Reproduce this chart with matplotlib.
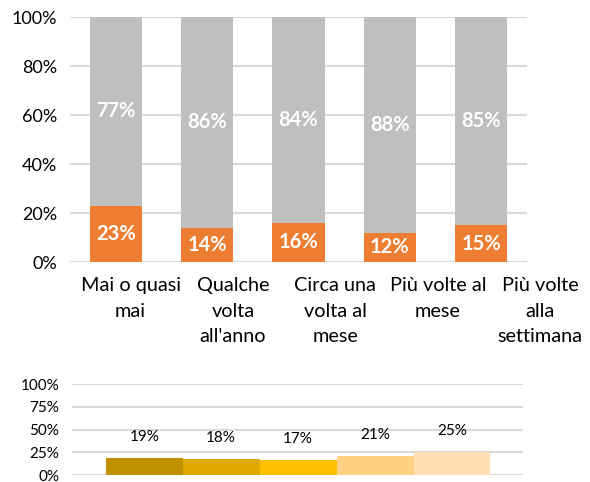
import matplotlib.pyplot as plt
import numpy as np

plt.rcParams['font.family'] = ['Lato', 'DejaVu Sans']

# Top chart data
categories = ['Mai o quasi\nmai', 'Qualche\nvolta\nall\'anno', 'Circa una\nvolta al\nmese',
              'Più volte al\nmese', 'Più volte\nalla\nsettimana']
share_yes = [23, 14, 16, 12, 15]
share_no = [77, 86, 84, 88, 85]

# Bottom chart data
group_share = [19, 18, 17, 21, 25]
group_colors = ['#BF9000', '#E1A900', '#FFC000', '#FFD184', '#FFDFB1']

fig = plt.figure(figsize=(5.9, 4.82), dpi=100)

# --- top stacked bars
ax = fig.add_axes([0.1186, 0.4564, 0.7746, 0.5083])
x = np.arange(len(categories))
ax.bar(x, share_yes, width=0.57, color='#ED7D31', zorder=3)
ax.bar(x, share_no, width=0.57, bottom=share_yes, color='#BFBFBF', zorder=3)
for i in range(len(x)):
    ax.text(x[i], share_yes[i] / 2, f'{share_yes[i]}%', ha='center', va='center',
            color='white', fontsize=14.5, fontweight='bold', zorder=4)
    ax.text(x[i], share_yes[i] + share_no[i] / 2, f'{share_no[i]}%', ha='center', va='center',
            color='white', fontsize=14.5, fontweight='bold', zorder=4)
ax.set_xlim(-0.5, len(categories) - 0.5)
ax.set_ylim(0, 100)
ax.set_yticks(range(0, 101, 20))
ax.set_yticklabels([f'{v}%' for v in range(0, 101, 20)], fontsize=13)
ax.set_xticks([])
# category labels sit on a slightly wider spacing than the bars
for i, lab in enumerate(categories):
    ax.annotate(lab, (0.164 + 1.12 * i, 0), xycoords=('data', 'axes fraction'),
                xytext=(0, -11), textcoords='offset points', ha='center', va='top',
                fontsize=14.3, linespacing=1.6, annotation_clip=False)
ax.tick_params(axis='y', length=0, pad=9)
ax.grid(axis='y', color='#D9D9D9', linewidth=1.5, zorder=0)
for s in ax.spines.values():
    s.set_visible(False)

# --- bottom bars
ax2 = fig.add_axes([0.122, 0.0145, 0.764, 0.1888])
x2 = np.arange(len(group_share))
ax2.bar(x2, group_share, width=1.0, color=group_colors, zorder=3)
for i in range(len(x2)):
    ax2.annotate(f'{group_share[i]}%', (x2[i], group_share[i]), xytext=(0, 15),
                 textcoords='offset points', ha='center', va='center', fontsize=11)
ax2.set_xlim(-0.94, 4.92)
ax2.set_ylim(0, 100)
ax2.set_yticks(range(0, 101, 25))
ax2.set_yticklabels([f'{v}%' for v in range(0, 101, 25)], fontsize=11)
ax2.set_xticks([])
ax2.tick_params(length=0, pad=9)
ax2.grid(axis='y', color='#D9D9D9', linewidth=1.5, zorder=0)
for s in ax2.spines.values():
    s.set_visible(False)

fig.savefig('out.png', dpi=100)
